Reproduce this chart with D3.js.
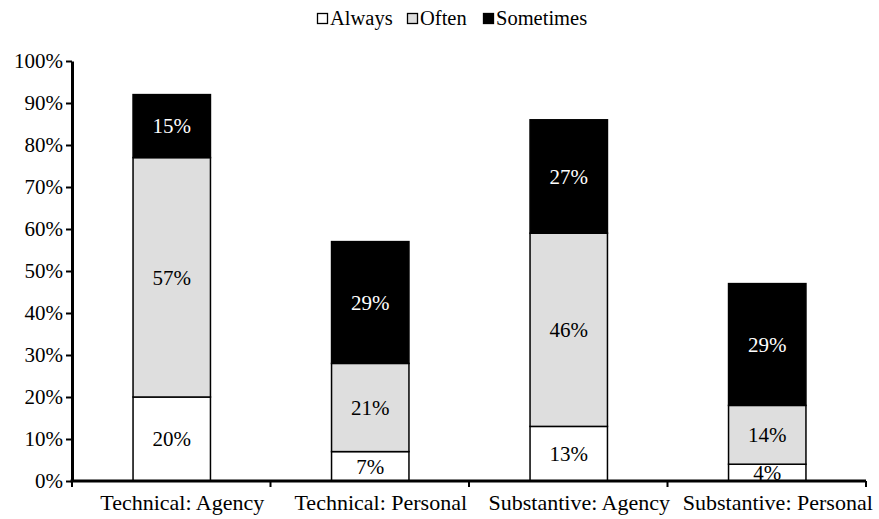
<!DOCTYPE html>
<html><head><meta charset="utf-8">
<script src="https://cdn.jsdelivr.net/npm/d3@7"></script>
<style>body{margin:0;background:#fff;} text{font-family:"Liberation Serif","Times New Roman",serif;}</style>
</head><body><svg id="c" width="879" height="519"></svg>
<script>
const categories = ["Technical: Agency","Technical: Personal","Substantive: Agency","Substantive: Personal"];
const seriesNames = ["Always","Often","Sometimes"];
const always = [20, 7, 13, 4];
const often = [57, 21, 46, 14];
const sometimes = [15, 29, 27, 29];
const yTicks = [0,10,20,30,40,50,60,70,80,90,100];
const colors = ["#ffffff","#dedede","#000000"];
const labelColors = ["#000","#000","#fff"];

const svg = d3.select("#c");
const m = {l:72, r:13, t:61, b:38};
const W = 879, H = 519;
const x = d3.scaleBand().domain(categories).range([m.l, W-m.r]).paddingInner(0).paddingOuter(0);
const y = d3.scaleLinear().domain([0,100]).range([H-m.b, m.t]);

const data = categories.map((c,i)=>({cat:c, Always:always[i], Often:often[i], Sometimes:sometimes[i]}));
const stack = d3.stack().keys(seriesNames)(data);
const bw = x.bandwidth()*0.39;

stack.forEach((s,si)=>{
  const g = svg.append("g");
  g.selectAll("rect").data(s).join("rect")
    .attr("x", d=>x(d.data.cat)+x.bandwidth()/2-bw/2+0.5)
    .attr("y", d=>y(d[1]))
    .attr("width", bw)
    .attr("height", d=>y(d[0])-y(d[1]))
    .attr("fill", colors[si])
    .attr("stroke","#000").attr("stroke-width",1.5);
  g.selectAll("text").data(s).join("text")
    .attr("x", d=>x(d.data.cat)+x.bandwidth()/2+0.5)
    .attr("y", d=>(y(d[0])+y(d[1]))/2)
    .attr("dy","0.35em")
    .attr("text-anchor","middle")
    .attr("font-size",21)
    .attr("fill", labelColors[si])
    .text(d=>(d[1]-d[0])+"%");
});

// y axis
const ya = svg.append("g").attr("transform",`translate(${m.l},0)`)
  .call(d3.axisLeft(y).tickValues(yTicks).tickFormat(d=>d+"%").tickSize(6).tickSizeOuter(0));
ya.select(".domain").attr("stroke","#000").attr("stroke-width",3);
ya.selectAll(".tick line").attr("stroke","#000").attr("stroke-width",2);
ya.selectAll(".tick text").attr("font-size",21).attr("fill","#000").attr("font-family","Liberation Serif").attr("x",-9);

// x axis
const xa = svg.append("g").attr("transform",`translate(0,${H-m.b})`);
xa.append("line").attr("x1",m.l-1.5).attr("x2",W-m.r).attr("stroke","#000").attr("stroke-width",3);
const bounds = [m.l].concat(categories.map(c=>x(c)+x.bandwidth()));
xa.selectAll("line.t").data(bounds).join("line").attr("class","t")
  .attr("x1",d=>d).attr("x2",d=>d).attr("y1",0).attr("y2",6)
  .attr("stroke","#000").attr("stroke-width",2);
xa.selectAll("text").data(categories).join("text")
  .attr("x",d=>x(d)+x.bandwidth()/2+11).attr("y",29)
  .attr("text-anchor","middle").attr("font-size",22).attr("fill","#000")
  .text(d=>d);

// legend
const leg = svg.append("g");
const items = [{n:"Always",x:317},{n:"Often",x:407},{n:"Sometimes",x:483}];
items.forEach((it,i)=>{
  leg.append("rect").attr("x",it.x+0.5).attr("y",13.5).attr("width",10).attr("height",10)
    .attr("fill",colors[i]).attr("stroke","#000").attr("stroke-width",1.3);
  leg.append("text").attr("x",it.x+13).attr("y",25).attr("font-size",20.5).attr("fill","#000").text(it.n);
});
</script></body></html>
